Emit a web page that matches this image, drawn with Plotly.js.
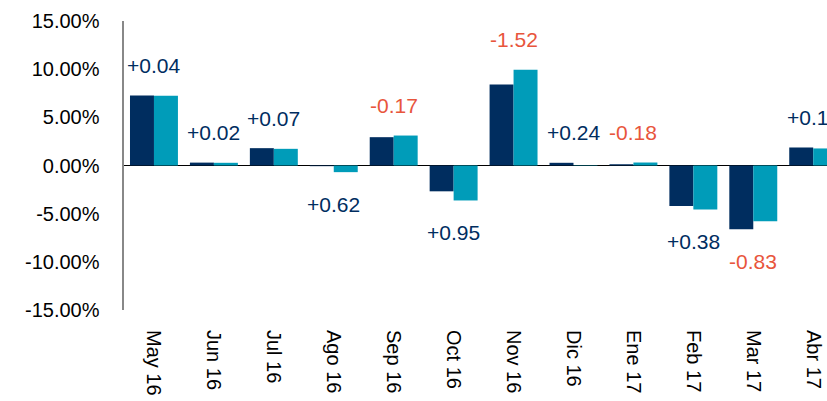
<!DOCTYPE html>
<html>
<head>
<meta charset="utf-8">
<script src="https://cdn.plot.ly/plotly-3.0.1.min.js"></script>
<style>html,body{margin:0;padding:0;background:#fff;}#chart{width:827px;height:401px;}</style>
</head>
<body>
<div id="chart"></div>
<script>
const months = ["May 16","Jun 16","Jul 16","Ago 16","Sep 16","Oct 16","Nov 16","Dic 16","Ene 17","Feb 17","Mar 17","Abr 17"];
const seriesA = [7.27, 0.30, 1.80, -0.07, 2.94, -2.68, 8.42, 0.28, 0.13, -4.20, -6.63, 1.87];
const seriesB = [7.23, 0.28, 1.73, -0.69, 3.11, -3.63, 9.94, 0.04, 0.31, -4.58, -5.80, 1.77];
const diffLabels = ["+0.04","+0.02","+0.07","+0.62","-0.17","+0.95","-1.52","+0.24","-0.18","+0.38","-0.83","+0.10"];
const yTicks = [15, 10, 5, 0, -5, -10, -15];
const yTickText = ["15.00%","10.00%","5.00%","0.00%","-5.00%","-10.00%","-15.00%"];

const navy = "#002D5F", teal = "#009CB9", red = "#E8553C";
const font = "Arial, 'Liberation Sans', sans-serif";

const traces = [
  {type:"bar", x: months, y: seriesA, marker:{color: navy}, hoverinfo:"none"},
  {type:"bar", x: months, y: seriesB, marker:{color: teal}, hoverinfo:"none"}
];

const annotations = months.map((m, i) => {
  const hi = Math.max(seriesA[i], seriesB[i]);
  const lo = Math.min(seriesA[i], seriesB[i]);
  const up = hi > 0;
  return {
    x: m, y: up ? hi : lo, xref:"x", yref:"y",
    text: diffLabels[i], showarrow:false,
    yanchor:"middle", yshift: up ? 30 : -32,
    font:{family: font, size: 21, color: diffLabels[i].startsWith("-") ? red : navy}
  };
});

const layout = {
  width: 827, height: 401,
  margin: {l:124, r:0, t:21, b:91},
  paper_bgcolor:"#fff", plot_bgcolor:"#fff",
  showlegend:false,
  barmode:"group", bargap:0.2, bargroupgap:0,
  font:{family: font, color:"#000"},
  xaxis:{
    type:"category", range:[-0.5, 11.23],
    showgrid:false, showline:false, zeroline:false,
    ticks:"outside", ticklen:15, tickcolor:"rgba(0,0,0,0)",
    tickangle:90, tickfont:{family: font, size:20, color:"#000"}
  },
  yaxis:{
    range:[-15, 15], tickvals: yTicks, ticktext: yTickText,
    showgrid:false, showline:true, linecolor:"#888", linewidth:2.5,
    zeroline:true, zerolinecolor:"#000", zerolinewidth:1.5,
    ticks:"outside", ticklen:18, tickcolor:"rgba(0,0,0,0)",
    tickfont:{family: font, size:20, color:"#000"}
  },
  annotations: annotations
};

Plotly.newPlot("chart", traces, layout, {displayModeBar:false, staticPlot:true});
</script>
</body>
</html>
